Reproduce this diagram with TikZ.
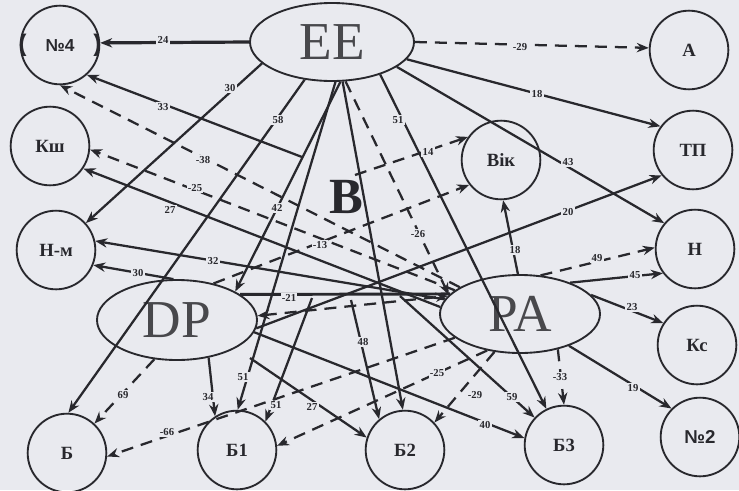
\documentclass[tikz,border=0pt]{standalone}
\usepackage{fontspec}
\setmainfont{Liberation Serif}
\newfontfamily\sansb{Liberation Sans}
\usetikzlibrary{shapes.geometric,arrows.meta}
\definecolor{bg}{RGB}{233,234,239}
\definecolor{ink}{RGB}{40,40,45}
\begin{document}
\begin{tikzpicture}[x=0.75pt,y=-0.75pt,
  circ/.style={circle,draw=ink,line width=1.4pt,minimum size=59pt,inner sep=0pt,font=\fontsize{14}{16}\selectfont\bfseries,text=ink},
  ell/.style={ellipse,draw=ink,line width=1.4pt,inner sep=0pt,font=\fontsize{40}{42}\selectfont,text=ink!85},
  con/.style={draw=ink,line width=1.7pt,-{Stealth[length=9pt,width=7pt]}},
  dsh/.style={con,dash pattern=on 9pt off 6pt},
  lbl/.style={fill=bg,inner sep=1pt,text=ink,font=\fontsize{8}{9}\selectfont\bfseries},
]
\useasboundingbox (0,0) rectangle (739,490);
\fill[bg] (0,0) rectangle (739,490);

% nodes
\node[circ] (n4) at (60,45) {\sansb\bfseries\makebox[0pt]{\makebox[62pt]{{\fontsize{18}{19}\selectfont(}\hfill{\fontsize{13}{14}\selectfont №4}\hfill{\fontsize{18}{19}\selectfont)}}}};
\node[ell,minimum width=123pt,minimum height=58.5pt] (EE) at (332,42) {EE};
\node[circ] (A) at (689,50) {А};
\node[circ] (Ksh) at (50,146) {Кш};
\node[circ] (TP) at (693,150) {ТП};
\node[circ] (Vik) at (501,160) {Вік};
\node[circ] (Nm) at (56,250) {Н-м};
\node[circ] (H) at (695,249) {Н};
\node[ell,minimum width=120pt,minimum height=60pt] (DP) at (177,320) {DP};
\node[ell,minimum width=120pt,minimum height=58.5pt] (PA) at (520,314) {PA};
\node[circ] (Ks) at (697,345) {Кс};
\node[circ] (B0) at (67,453) {Б};
\node[circ] (B1) at (237,450) {Б1};
\node[circ] (B2) at (405,450) {Б2};
\node[circ] (B3) at (564,445) {Б3};
\node[circ] (N2) at (700,437) {\sansb\bfseries №2};
\node[font=\fontsize{38}{40}\selectfont\bfseries,text=ink] (Bbig) at (346,197) {B};

\coordinate (c33) at (302,157);
\coordinate (c14) at (355,175);
\coordinate (c59) at (400,296);
\coordinate (c48) at (351,300);
\coordinate (c27) at (250,358);
\coordinate (c51) at (312,298);

% edges from EE
\draw[con,line width=2.4pt] (EE.180) -- (n4.3) node[lbl,at={(163,40)}]{24};
\draw[dsh] (EE.0) -- (A.177) node[lbl,at={(520,47)}]{-29};
\draw[con] (EE.-13) -- (TP.144) node[lbl,at={(537,94)}]{18};
\draw[con] (EE.-21) -- (H.140) node[lbl,at={(568,162)}]{43};
\draw[con] (EE.197) -- (Nm.42) node[lbl,at={(230,88)}]{30};
\draw[con] (EE.234) -- (B0.88) node[lbl,at={(278,120)}]{58};
\draw[con] (EE.282) -- (DP.26) node[lbl,at={(277,208)}]{42};
\draw[con] (EE.275) -- (B1.89) node[lbl,at={(243,377)}]{51};
\draw[con] (EE.285) -- (B2.93);
\draw[dsh] (EE.289) -- (PA.165) node[lbl,at={(418,234)}]{-26};
\draw[con] (EE.-34) -- (B3.116) node[lbl,at={(398,120)}]{51};

% to No4 and Ksh
\draw[con] (c33) -- (n4.-48) node[lbl,at={(163,107)}]{33};
\draw[dsh] (PA.156) -- (n4.-90) node[lbl,at={(203,160)}]{-38};
\draw[con] (PA.175) -- (Ksh.-34) node[lbl,at={(170,210)}]{27};
\draw[dsh] (PA.160) -- (Ksh.-5) node[lbl,at={(195,188)}]{-25};

% to N-m
\draw[con] (PA.169) -- (Nm.13) node[lbl,at={(213,261)}]{32};
\draw[con] (DP.95) -- (Nm.-22) node[lbl,at={(138,273)}]{30};

% to Vik
\draw[dsh] (c14) -- (Vik.145) node[lbl,at={(428,152)}]{14};
\draw[dsh] (DP.45) -- (Vik.218) node[lbl,at={(320,245)}]{-13};
\draw[con] (PA.93) -- (Vik.-87) node[lbl,at={(515,250)}]{18};

% right side
\draw[con] (DP.-6) -- (TP.219) node[lbl,at={(568,212)}]{20};
\draw[dsh] (PA.62) -- (H.178) node[lbl,at={(597,258)}]{49};
\draw[con] (PA.32) -- (H.217) node[lbl,at={(635,275)}]{45};
\draw[con] (PA.15) -- (Ks.147) node[lbl,at={(632,307)}]{23};
\draw[con] (PA.-33) -- (N2.135) node[lbl,at={(633,388)}]{19};

% DP - PA
\draw[draw=ink,line width=2.2pt] (DP.22) -- (PA.164) node[lbl,at={(289,298)}]{-21};
\draw[dsh,{Stealth[length=9pt,width=7pt]}-{Stealth[length=9pt,width=7pt]}] (DP.3) -- (PA.166);

% bottom row
\draw[dsh] (PA.-43) -- (B3.90) node[lbl,at={(560,377)}]{-33};
\draw[con] (c59) -- (B3.137) node[lbl,at={(512,397)}]{59};
\draw[con] (DP.-9) -- (B3.170) node[lbl,at={(485,425)}]{40};
\draw[con] (c48) -- (B2.130) node[lbl,at={(363,342)}]{48};
\draw[dsh] (PA.-124) -- (B2.43) node[lbl,at={(475,395)}]{-29};
\draw[con] (c27) -- (B2.162) node[lbl,at={(312,407)}]{27};
\draw[con] (DP.-50) -- (B1.123) node[lbl,at={(208,397)}]{34};
\draw[con] (c51) -- (B1.45) node[lbl,at={(276,405)}]{51};
\draw[dsh] (PA.-132) -- (B1.6) node[lbl,at={(437,373)}]{-25};
\draw[dsh] (DP.-120) -- (B0.47) node[lbl,at={(123,395)}]{69};
\draw[dsh] (PA.-160) -- (B0.-5) node[lbl,at={(167,432)}]{-66};
\end{tikzpicture}
\end{document}
